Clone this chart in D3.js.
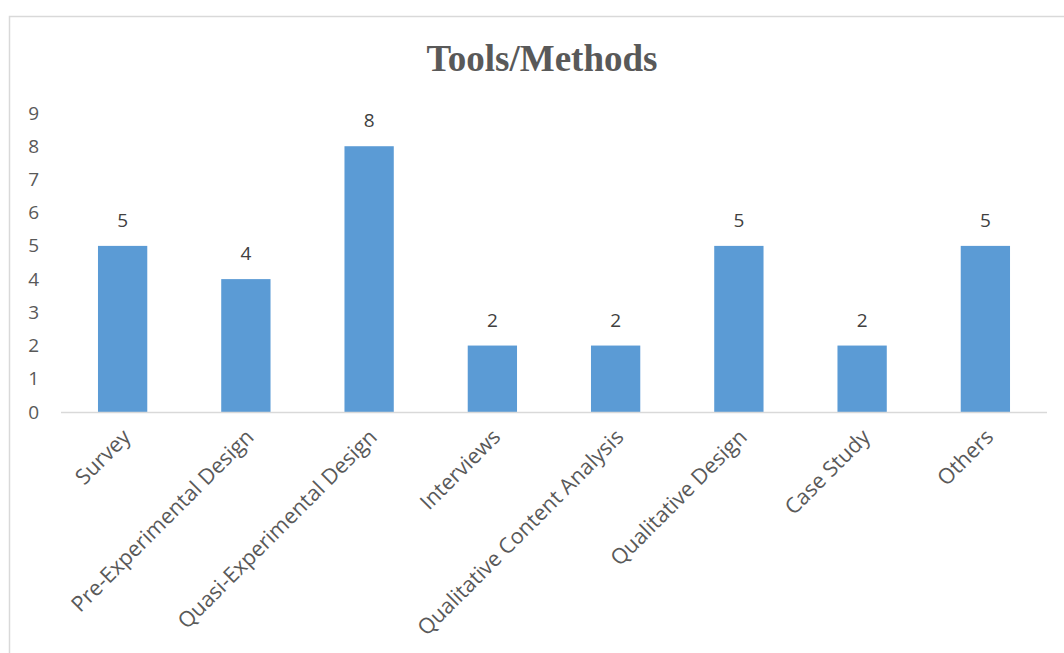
<!DOCTYPE html>
<html>
<head>
<meta charset="utf-8">
<script src="https://cdn.jsdelivr.net/npm/d3@7"></script>
<style>
    body { margin: 0; background: #fff; }
    svg { display: block; }
</style>
</head>
<body>
<div id="chart"></div>
<script>
// Chart data.
var categories = ['Survey', 'Pre-Experimental Design', 'Quasi-Experimental Design', 'Interviews',
    'Qualitative Content Analysis', 'Qualitative Design', 'Case Study', 'Others'];
var counts = [5, 4, 8, 2, 2, 5, 2, 5];
var yTicks = [0, 1, 2, 3, 4, 5, 6, 7, 8, 9];
var chartTitle = 'Tools/Methods';

var width = 1064,
    height = 653,
    margin = { top: 113, right: 17, bottom: 241, left: 61 };

var svg = d3.select( '#chart' )
    .append( 'svg' )
    .attr( 'width', width )
    .attr( 'height', height );

// Outer chart frame (runs off the right and bottom edge).
svg.append( 'rect' )
    .attr( 'x', 9.5 )
    .attr( 'y', 16.5 )
    .attr( 'width', 1080 )
    .attr( 'height', 680 )
    .attr( 'fill', 'none' )
    .attr( 'stroke', '#d9d9d9' )
    .attr( 'stroke-width', 1.5 );

var x = d3.scaleBand()
    .domain( categories )
    .range( [margin.left, width - margin.right] )
    .paddingInner( 0.6 )
    .paddingOuter( 0.3 );

var y = d3.scaleLinear()
    .domain( [0, 9] )
    .range( [height - margin.bottom, margin.top] );

svg.append( 'text' )
    .attr( 'x', 542 )
    .attr( 'y', 71 )
    .attr( 'text-anchor', 'middle' )
    .attr( 'font-family', '"Liberation Serif", "Times New Roman", serif' )
    .attr( 'font-weight', 'bold' )
    .attr( 'font-size', 37 )
    .attr( 'fill', '#595959' )
    .text( chartTitle );

// Y axis labels (no line, no gridlines).
var yAxis = svg.append( 'g' )
    .attr( 'transform', 'translate(' + 39 + ',0)' )
    .call( d3.axisLeft( y ).tickValues( yTicks ).tickSize( 0 ).tickPadding( 0 ) );
yAxis.select( '.domain' ).remove();
yAxis.selectAll( 'text' )
    .attr( 'font-family', '"Open Sans", sans-serif' )
    .attr( 'font-size', 19 )
    .attr( 'fill', '#595959' );

var data = categories.map( function ( c, i ) { return { name: c, value: counts[i] }; } );

svg.append( 'g' )
    .selectAll( 'rect' )
    .data( data )
    .join( 'rect' )
        .attr( 'x', d => x( d.name ) )
        .attr( 'y', d => y( d.value ) )
        .attr( 'width', x.bandwidth() )
        .attr( 'height', d => y( 0 ) - y( d.value ) )
        .attr( 'fill', '#5b9bd5' );

// Value labels.
svg.append( 'g' )
    .selectAll( 'text' )
    .data( data )
    .join( 'text' )
        .attr( 'x', d => x( d.name ) + x.bandwidth() / 2 )
        .attr( 'y', d => y( d.value ) - 19 )
        .attr( 'text-anchor', 'middle' )
        .attr( 'font-family', '"Open Sans", sans-serif' )
        .attr( 'font-size', 19 )
        .attr( 'fill', '#404040' )
        .text( d => d.value );

// X axis line.
var xAxis = svg.append( 'g' )
    .attr( 'transform', 'translate(0,' + y( 0 ) + ')' )
    .call( d3.axisBottom( x ).tickSize( 0 ).tickPadding( 0 ) );
xAxis.select( '.domain' )
    .attr( 'stroke', '#d9d9d9' )
    .attr( 'stroke-width', 1.5 )
    .attr( 'd', 'M' + margin.left + ',0.5H' + ( width - margin.right ) );
xAxis.selectAll( 'text' )
    .attr( 'font-family', '"Open Sans", sans-serif' )
    .attr( 'font-size', 21.5 )
    .attr( 'fill', '#595959' )
    .attr( 'text-anchor', 'end' )
    .attr( 'dy', '0.35em' )
    .attr( 'y', 0 )
    .attr( 'transform', 'translate(4,21) rotate(-45)' );
</script>
</body>
</html>
